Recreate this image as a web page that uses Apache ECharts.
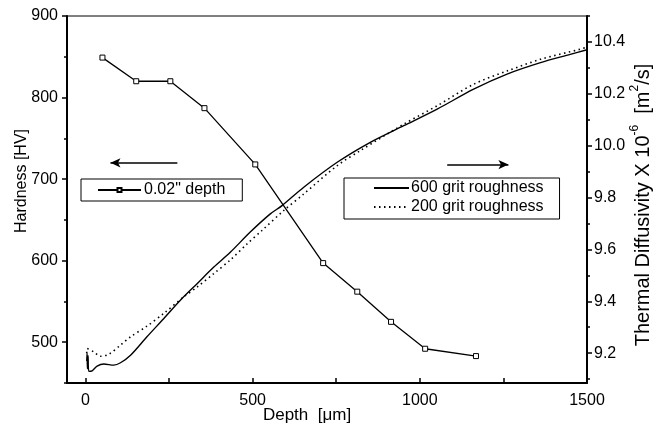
<!DOCTYPE html>
<html>
<head>
<meta charset="utf-8">
<script src="https://cdn.jsdelivr.net/npm/echarts@6/dist/echarts.min.js"></script>
<style>html,body{margin:0;padding:0;background:#fff}#c{width:662px;height:432px}</style>
</head>
<body>
<div id="c"></div>
<script>
// Hardness profile (0.02" depth)
const hardDepth = [51, 152, 254, 356, 508, 711, 813, 914, 1016, 1168];
const hardValue = [849, 820, 820, 787, 718, 597, 562, 525, 492, 483];

// Thermal diffusivity, 600 grit roughness
const td600Depth = [4, 5, 6, 8, 10, 20, 35, 55, 85, 105, 135, 184, 234, 284, 334, 384, 434, 493, 553, 588, 653, 753, 852, 952, 1052, 1161, 1261, 1361, 1450, 1500];
const td600Value = [9.17, 9.20, 9.14, 9.19, 9.13, 9.132, 9.15, 9.158, 9.154, 9.163, 9.192, 9.263, 9.333, 9.404, 9.468, 9.532, 9.590, 9.667, 9.737, 9.769, 9.840, 9.936, 10.013, 10.077, 10.141, 10.218, 10.276, 10.320, 10.352, 10.370];

// Thermal diffusivity, 200 grit roughness
const td200Depth = [4, 5, 25, 45, 70, 105, 135, 184, 234, 294, 334, 384, 434, 484, 528, 593, 653, 753, 822, 952, 1052, 1161, 1261, 1361, 1480, 1500];
const td200Value = [9.20, 9.218, 9.205, 9.188, 9.196, 9.231, 9.263, 9.304, 9.353, 9.417, 9.455, 9.507, 9.560, 9.622, 9.673, 9.750, 9.814, 9.923, 9.981, 10.083, 10.154, 10.237, 10.288, 10.333, 10.372, 10.380];

// Axis ticks / labels
const xLabels = [0, 500, 1000, 1500];
const xTicks = [0, 250, 500, 750, 1000, 1250, 1500];
const hvLabels = [500, 600, 700, 800, 900];
const hvMinor = [450, 550, 650, 750, 850];
const tdLabels = [9.2, 9.4, 9.6, 9.8, 10.0, 10.2, 10.4];
const tdMinor = [9.1, 9.3, 9.5, 9.7, 9.9, 10.1, 10.3, 10.5];

// Annotation arrows (data coordinates)
const hvArrow = [[275, 720], [75, 720]];
const tdArrow = [[1082, 9.927], [1265, 9.927]];

const FONT = 'Arial, "Liberation Sans", Helvetica, sans-serif';
const zip = (a, b) => a.map((v, i) => [v, b[i]]);

const chart = echarts.init(document.getElementById('c'), null, {renderer: 'canvas'});

const yBase = {
  splitLine: {show: false},
  axisLine: {show: true, onZero: false, lineStyle: {color: '#000', width: 2}},
  axisLabel: {color: '#000', fontSize: 16, fontFamily: FONT},
};

chart.setOption({
  animation: false,
  backgroundColor: '#fff',
  grid: {left: 67, right: 75, top: 16, bottom: 49, show: true, borderColor: '#000', borderWidth: 1, backgroundColor: 'transparent'},
  xAxis: {
    type: 'value', min: -55, max: 1500,
    splitLine: {show: false},
    axisLine: {onZero: false, lineStyle: {color: '#000', width: 2}},
    axisTick: {inside: true, length: 5, customValues: xTicks, lineStyle: {color: '#000', width: 1.5}},
    axisLabel: {customValues: xLabels, color: '#000', fontSize: 16, fontFamily: FONT, margin: 10, formatter: v => String(v)},
  },
  yAxis: [
    Object.assign({}, yBase, {
      type: 'value', position: 'left', min: 450, max: 900,
      axisTick: {length: 5, customValues: hvLabels, lineStyle: {color: '#000', width: 1.5}},
      axisLabel: Object.assign({}, yBase.axisLabel, {customValues: hvLabels, margin: 9, formatter: v => String(v)}),
    }),
    Object.assign({}, yBase, {
      type: 'value', position: 'left', min: 450, max: 900,
      axisLine: {show: false, onZero: false},
      axisTick: {length: 3, customValues: hvMinor, lineStyle: {color: '#000', width: 1.5}},
      axisLabel: {show: false},
    }),
    Object.assign({}, yBase, {
      type: 'value', position: 'right', min: 9.085, max: 10.5,
      axisTick: {length: 5, customValues: tdLabels, lineStyle: {color: '#000', width: 1.5}},
      axisLabel: Object.assign({}, yBase.axisLabel, {customValues: tdLabels, margin: 7, formatter: v => v.toFixed(1)}),
    }),
    Object.assign({}, yBase, {
      type: 'value', position: 'right', min: 9.085, max: 10.5,
      axisLine: {show: false, onZero: false},
      axisTick: {length: 3, customValues: tdMinor, lineStyle: {color: '#000', width: 1.5}},
      axisLabel: {show: false},
    }),
  ],
  legend: [
    {
      data: ['0.02" depth'], left: 81, top: 179, orient: 'horizontal',
      borderColor: '#000', borderWidth: 1, padding: [3, 17, 3, 16],
      itemWidth: 43, itemHeight: 5, itemGap: 4,
      textStyle: {color: '#000', fontSize: 16, fontFamily: FONT, padding: [0, 0, 0, -2]},
    },
    {
      data: ['600 grit roughness', '200 grit roughness'], left: 344, top: 178, orient: 'vertical',
      borderColor: '#000', borderWidth: 1, padding: [2, 16, 4, 29],
      itemWidth: 35, itemHeight: 8, itemGap: 3,
      itemStyle: {opacity: 0},
      textStyle: {color: '#000', fontSize: 16, fontFamily: FONT, padding: [0, 0, 0, -3]},
    },
  ],
  graphic: [
    {type: 'text', x: 22, y: 181, rotation: Math.PI / 2,
      style: {text: 'Hardness [HV]', fill: '#000', font: '16px ' + FONT, align: 'center', verticalAlign: 'middle'}},
    {type: 'text', x: 307, y: 415,
      style: {text: 'Depth  [\u03bcm]', fill: '#000', font: '17px ' + FONT, align: 'center', verticalAlign: 'middle'}},
    {type: 'text', x: 641, y: 205, rotation: Math.PI / 2,
      style: {
        text: '{a|Thermal Diffusivity X 10}{s|-6}{a|  [m}{s|2}{a|/s]}',
        align: 'center', verticalAlign: 'middle',
        rich: {
          a: {fontSize: 20, fontFamily: FONT, fill: '#000', lineHeight: 24, verticalAlign: 'bottom'},
          s: {fontSize: 12, fontFamily: FONT, fill: '#000', lineHeight: 12, verticalAlign: 'top'},
        },
      }},
  ],
  series: [
    {
      name: '0.02" depth', type: 'line', yAxisIndex: 0,
      data: zip(hardDepth, hardValue),
      symbol: 'rect', symbolSize: 5,
      itemStyle: {color: '#fff', borderColor: '#000', borderWidth: 1},
      lineStyle: {color: '#000', width: 1.3},
      markLine: {
        silent: true, symbol: ['none', 'arrow'], symbolSize: [7, 10],
        label: {show: false},
        lineStyle: {color: '#000', width: 1.5, type: 'solid'},
        data: [[{coord: hvArrow[0]}, {coord: hvArrow[1]}]],
      },
      z: 5,
    },
    {
      name: '600 grit roughness', type: 'line', yAxisIndex: 2,
      data: zip(td600Depth, td600Value),
      symbol: 'none', smooth: 0.3,
      lineStyle: {color: '#000', width: 1.4},
      itemStyle: {color: '#000'},
      markLine: {
        silent: true, symbol: ['none', 'arrow'], symbolSize: [7, 10],
        label: {show: false},
        lineStyle: {color: '#000', width: 1.5, type: 'solid'},
        data: [[{coord: tdArrow[0]}, {coord: tdArrow[1]}]],
      },
    },
    {
      name: '200 grit roughness', type: 'line', yAxisIndex: 2,
      data: zip(td200Depth, td200Value),
      symbol: 'none', smooth: 0.3,
      lineStyle: {color: '#000', width: 1.6, type: [1.5, 3.5]},
      itemStyle: {color: '#000'},
    },
  ],
});
</script>
</body>
</html>
